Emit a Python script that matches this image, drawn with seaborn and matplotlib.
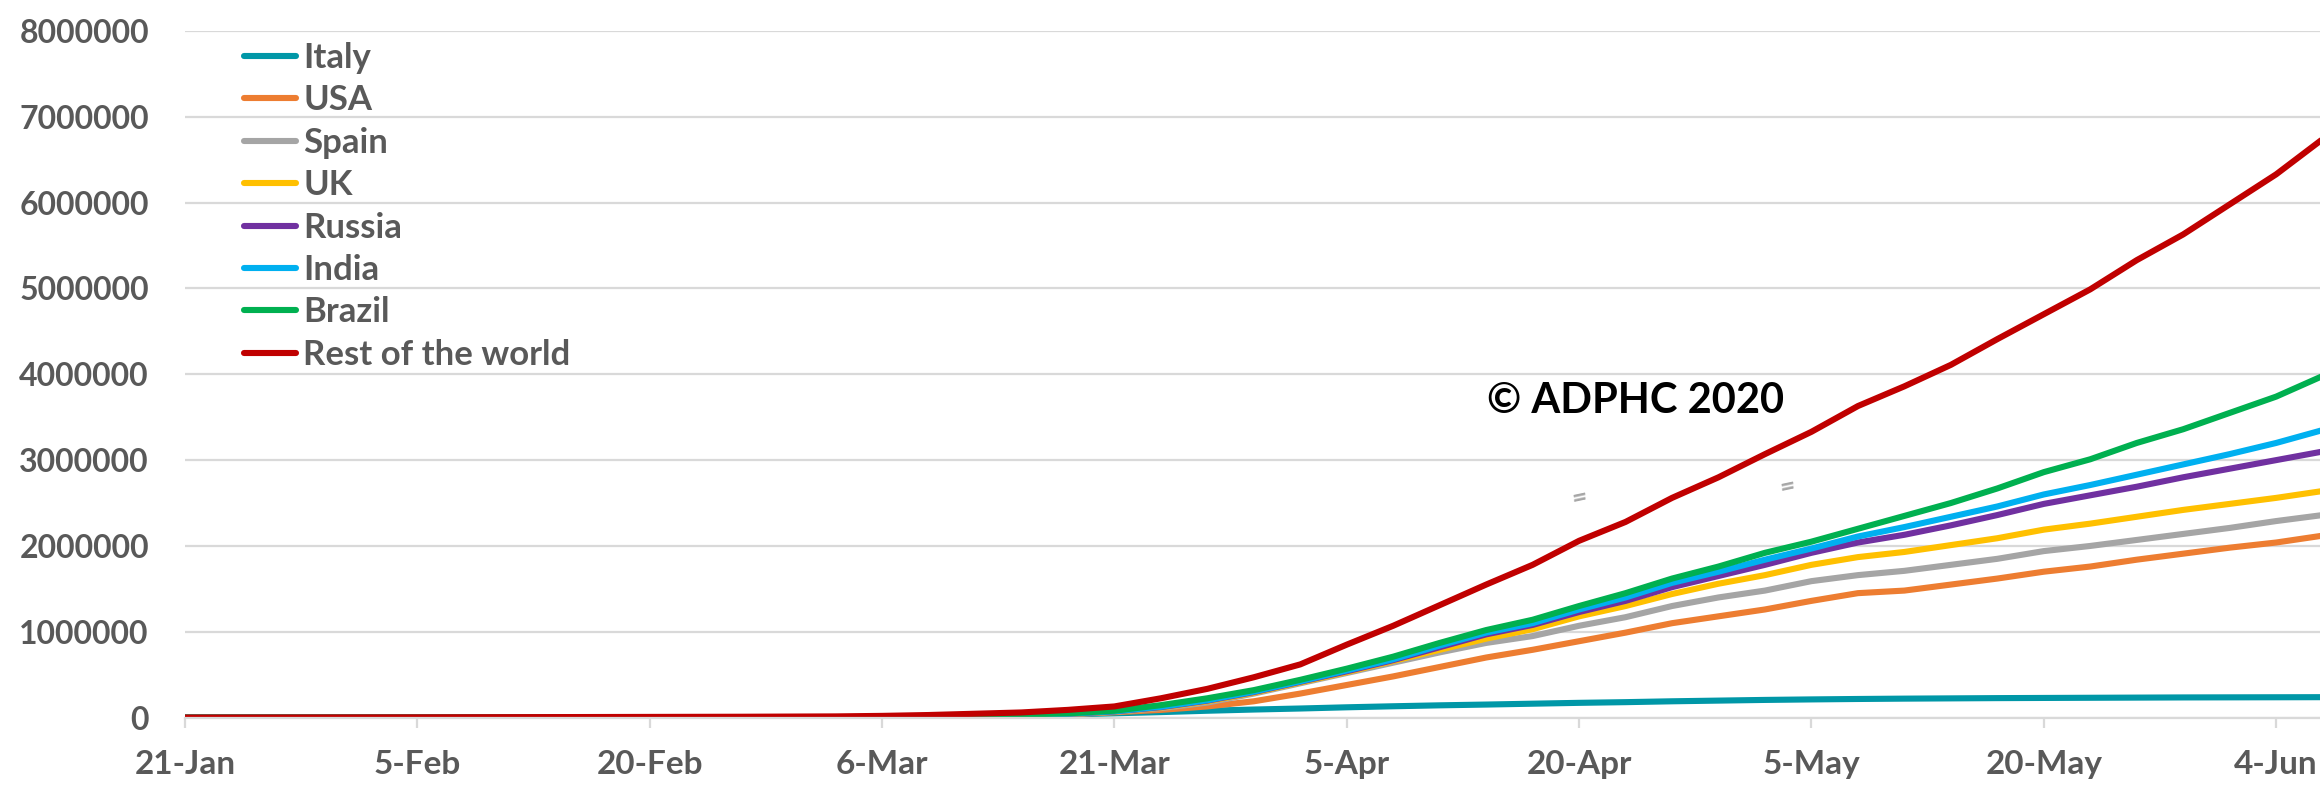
import numpy as np
import pandas as pd
import matplotlib
matplotlib.use("Agg")
import matplotlib.pyplot as plt
from matplotlib.lines import Line2D
import seaborn as sns

# Cumulative confirmed cases, stacked by country (thousands), sampled every 3 days from 21 Jan 2020
start_date = "2020-01-21"
step_days = 3
italy_k = [0, 0, 0, 0, 0, 0, 0, 0, 0, 0, 0, 0.2, 0.5, 1, 2,
           4, 8, 15, 25, 35, 50, 64, 80, 94, 106, 120, 132, 143, 152, 162,
           172, 180, 190, 198, 206, 212, 217, 221, 224, 227, 229, 231, 233, 235, 236, 237, 238]
usa_k = [0, 0, 0, 0, 0, 0, 0, 0, 0, 0, 0, 0.3, 0.7, 1.3, 2.5,
         5, 10, 18, 27, 40, 62, 90, 130, 190, 280, 380, 480, 590, 700, 790,
         890, 990, 1100, 1180, 1260, 1360, 1450, 1480, 1550, 1620, 1700, 1760, 1840, 1910, 1980, 2040, 2120]
spain_k = [0, 0, 0, 0, 0, 0, 0, 0, 0, 0, 0, 0.4, 0.8, 1.5, 3,
           6, 12, 22, 33, 42, 66, 110, 175, 280, 400, 520, 640, 760, 870, 950,
           1070, 1170, 1300, 1400, 1480, 1590, 1660, 1710, 1780, 1850, 1940, 2000, 2070, 2140, 2210, 2290, 2360]
uk_k = [0, 0, 0, 0, 0, 0, 0, 0, 0, 0, 0, 0.4, 0.8, 1.6, 3,
        6, 12, 22, 34, 44, 70, 118, 190, 290, 410, 530, 660, 790, 920, 1030,
        1180, 1300, 1440, 1560, 1660, 1780, 1870, 1930, 2010, 2090, 2190, 2260, 2340, 2420, 2490, 2560, 2640]
russia_k = [0, 0, 0, 0, 0, 0, 0, 0, 0, 0, 0, 0.4, 0.8, 1.6, 3,
            6, 12, 22, 34, 45, 72, 122, 198, 298, 418, 540, 670, 820, 970, 1080,
            1230, 1360, 1520, 1650, 1780, 1920, 2040, 2130, 2240, 2360, 2490, 2590, 2690, 2800, 2900, 3000, 3100]
india_k = [0, 0, 0, 0, 0, 0, 0, 0, 0, 0, 0, 0.4, 0.8, 1.6, 3,
           6, 12, 22, 34, 46, 74, 126, 203, 303, 423, 550, 680, 840, 990, 1100,
           1260, 1400, 1570, 1700, 1840, 1970, 2110, 2220, 2340, 2460, 2600, 2710, 2830, 2950, 3070, 3200, 3350]
brazil_k = [0, 0, 0, 0, 0, 0, 0, 0, 0, 0, 0, 0.5, 1, 2, 3.5,
            7, 13, 23, 35, 50, 80, 145, 225, 320, 440, 570, 710, 870, 1020, 1140,
            1300, 1450, 1620, 1760, 1920, 2050, 2200, 2350, 2500, 2670, 2860, 3010, 3200, 3360, 3550, 3740, 3980]
rest_k = [0.5, 1, 1.5, 2, 2.5, 3, 4, 5, 6, 7, 8, 9, 10, 12, 14,
          20, 30, 45, 60, 90, 130, 225, 335, 470, 620, 850, 1070, 1310, 1550, 1780,
          2060, 2280, 2560, 2800, 3070, 3330, 3630, 3860, 4110, 4410, 4700, 4990, 5330, 5630, 5980, 6330, 6740]

series_names = ["Italy", "USA", "Spain", "UK", "Russia", "India", "Brazil", "Rest of the world"]
series_colors = ["#0097A7", "#ED7D31", "#A5A5A5", "#FFC000", "#7030A0", "#00B0F0", "#00B050", "#C00000"]
tick_labels = ["21-Jan", "5-Feb", "20-Feb", "6-Mar", "21-Mar", "5-Apr", "20-Apr", "5-May", "20-May", "4-Jun"]
y_ticks = [0, 1000000, 2000000, 3000000, 4000000, 5000000, 6000000, 7000000, 8000000]
watermark = "© ADPHC 2020"

values_k = [italy_k, usa_k, spain_k, uk_k, russia_k, india_k, brazil_k, rest_k]
dates = pd.date_range(start_date, periods=len(italy_k), freq=f"{step_days}D")
frames = []
for name, vals in zip(series_names, values_k):
    frames.append(pd.DataFrame({"date": dates, "cases": np.asarray(vals) * 1000.0, "series": name}))
df = pd.concat(frames, ignore_index=True)

sns.set_theme(style="white")
plt.rcParams["font.family"] = ["Lato", "DejaVu Sans"]
plt.rcParams["font.weight"] = "bold"

W, H = 2320, 786
fig = plt.figure(figsize=(W / 100, H / 100), dpi=100)
fig.patch.set_facecolor("white")

x0 = pd.Timestamp(start_date)
x1 = x0 + pd.Timedelta(days=140)
px_per_day = 15.49
ax_left = 185 / W
ax_width = 140 * px_per_day / W
ax_bottom = (H - 717.6) / H
ax_top = (H - 31) / H
ax = fig.add_axes([ax_left, ax_bottom, ax_width, ax_top - ax_bottom])

line_w = 4.4
sns.lineplot(data=df, x="date", y="cases", hue="series", hue_order=series_names,
             palette=series_colors, linewidth=line_w, ax=ax, legend=False,
             estimator=None, sort=True)
for ln in ax.lines:
    ln.set_solid_capstyle("round")
    ln.set_solid_joinstyle("round")

grid_c = "#D9D9D9"
ax.set_xlim(x0, x1)
ax.set_ylim(0, 8000000)
ax.set_yticks(y_ticks)
ax.set_yticklabels([str(v) for v in y_ticks])
tick_dates = [pd.to_datetime(t + "-2020", format="%d-%b-%Y") for t in tick_labels]
ax.set_xticks(tick_dates)
ax.set_xticklabels(tick_labels)
ax.yaxis.grid(True, color=grid_c, linewidth=1.6)
ax.xaxis.grid(False)
ax.set_axisbelow(True)
for side in ["left", "top", "right"]:
    ax.spines[side].set_visible(False)
ax.spines["bottom"].set_color(grid_c)
ax.spines["bottom"].set_linewidth(1.6)
ax.tick_params(axis="x", which="major", direction="out", length=7, width=1.6,
               color=grid_c, pad=16, labelsize=24, labelcolor="#595959", bottom=True)
ax.tick_params(axis="y", length=0, pad=26, labelsize=23, labelcolor="#595959")
for lbl in ax.get_xticklabels() + ax.get_yticklabels():
    lbl.set_fontweight("bold")
ax.set_xlabel("")
ax.set_ylabel("")

# Watermark
fig.text(1487 / W, 1 - 401 / H, watermark, fontsize=30, fontweight="bold",
         color="black", ha="left", va="center")

# Small grey stray marks in the plotting area
for fx, fy in [(1580, 498), (1788, 487)]:
    fig.text(fx / W, 1 - fy / H, "=", fontsize=19, color="#A6A6A6", fontstyle="italic",
             rotation=12, ha="center", va="center")

handles = [Line2D([0], [0], color=c, lw=line_w, solid_capstyle="round") for c in series_colors]
leg = ax.legend(handles, series_names, loc="upper left", bbox_to_anchor=(244 / W, 1 - 42 / H),
                bbox_transform=fig.transFigure, frameon=False, handlelength=1.5,
                handletextpad=0.2, labelspacing=0.3, borderpad=0, borderaxespad=0,
                prop={"size": 25, "weight": "bold"})
for t in leg.get_texts():
    t.set_color("#595959")

fig.savefig("out.png", dpi=100, facecolor="white")
